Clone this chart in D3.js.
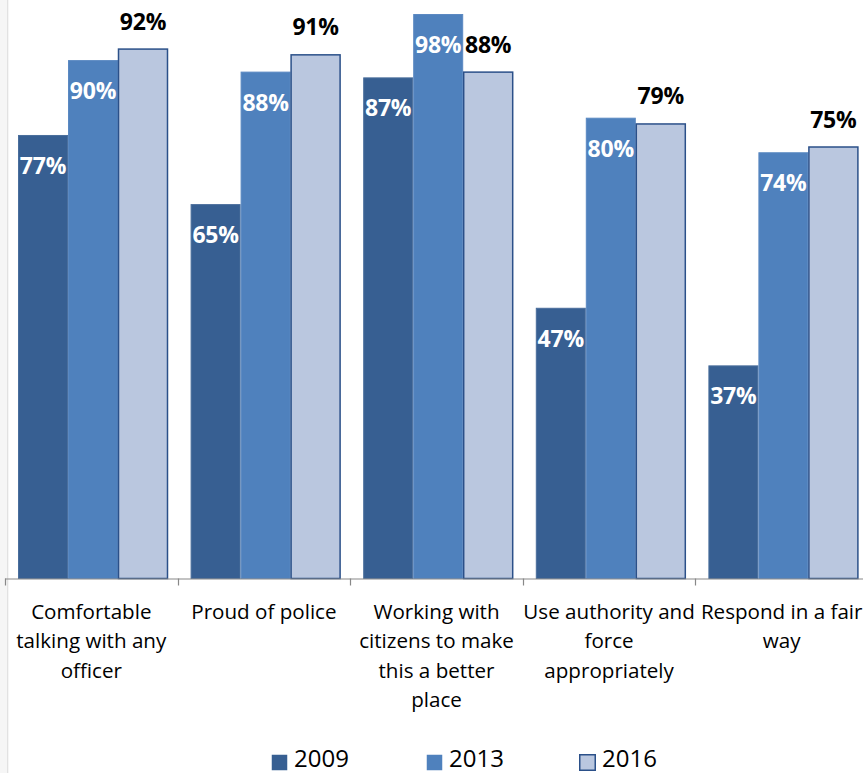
<!DOCTYPE html>
<html>
<head>
<meta charset="utf-8">
<script src="https://cdn.jsdelivr.net/npm/d3@7"></script>
<style>
  html, body { margin: 0; padding: 0; background: #fff; }
  svg { display: block; font-family: "Open Sans", sans-serif; }
</style>
</head>
<body>
<svg id="chart" width="863" height="773"></svg>
<script>
// Survey categories (axis labels, split into display lines)
const categories = [
  "Comfortable talking with any officer",
  "Proud of police",
  "Working with citizens to make this a better place",
  "Use authority and force appropriately",
  "Respond in a fair way"
];
const categoryLines = [
  ["Comfortable", "talking with any", "officer"],
  ["Proud of police"],
  ["Working with", "citizens to make", "this a better", "place"],
  ["Use authority and", "force", "appropriately"],
  ["Respond in a fair", "way"]
];
const years = ["2009", "2013", "2016"];
const values2009 = [77, 65, 87, 47, 37];
const values2013 = [90, 88, 98, 80, 74];
const values2016 = [92, 91, 88, 79, 75];
const seriesValues = [values2009, values2013, values2016];

const fills = { "2009": "#375F92", "2013": "#4F81BD", "2016": "#BAC7DF" };
const strokes = { "2009": "#4A6E9C", "2013": "#5B89C2", "2016": "#2B5089" };

const svg = d3.select("#chart");
const baseline = 578.5;

const x0 = d3.scaleBand().domain(categories).range([5, 868]).padding(0);
const x1 = d3.scaleBand().domain(years).range([13, 163]).padding(0);
const y = d3.scaleLinear().domain([0, 100]).range([baseline, 2.5]);

// faint page edge on the left
svg.append("rect").attr("x", 0).attr("y", 0).attr("width", 9).attr("height", 773)
  .attr("fill", "#f6f6f6");
svg.append("line").attr("x1", 7.5).attr("x2", 7.5).attr("y1", 0).attr("y2", 773)
  .attr("stroke", "#e2e2e2").attr("stroke-width", 1);

const rows = [];
categories.forEach((c, i) => {
  years.forEach((yr, j) => rows.push({ cat: c, year: yr, value: seriesValues[j][i] }));
});

// bars
svg.append("g").selectAll("rect").data(rows).join("rect")
  .attr("x", d => x0(d.cat) + x1(d.year) + 0.5)
  .attr("y", d => y(d.value) + 0.5)
  .attr("width", x1.bandwidth() - 1)
  .attr("height", d => baseline - y(d.value) - 0.5)
  .attr("fill", d => fills[d.year])
  .attr("stroke", d => strokes[d.year])
  .attr("stroke-width", d => d.year === "2016" ? 1.5 : 1);

// value labels: inside-top (white) for 2009/2013, above bar (black) for 2016
svg.append("g").selectAll("text").data(rows).join("text")
  .attr("x", d => x0(d.cat) + x1(d.year) + x1.bandwidth() / 2)
  .attr("y", d => d.year === "2016" ? y(d.value) - 19 : y(d.value) + 39)
  .attr("text-anchor", "middle")
  .attr("font-weight", "bold")
  .attr("font-size", 23)
  .attr("letter-spacing", -0.2)
  .attr("fill", d => d.year === "2016" ? "#000" : "#fff")
  .text(d => d.value + "%");

// x axis
const axis = d3.axisBottom(x0).tickSize(0).tickFormat("");
const gAxis = svg.append("g").attr("transform", `translate(0,${baseline})`).call(axis);
gAxis.select(".domain").attr("stroke", "#888").attr("stroke-width", 1.2).attr("d", "M5,0.5H868");
// boundary ticks between categories
const bounds = categories.map(c => x0(c));
gAxis.selectAll(".bound").data(bounds).join("line")
  .attr("class", "bound")
  .attr("x1", d => Math.round(d) + 0.5).attr("x2", d => Math.round(d) + 0.5)
  .attr("y1", 0).attr("y2", 7)
  .attr("stroke", "#888").attr("stroke-width", 1.2);

// category labels
const gLabels = svg.append("g");
categories.forEach((c, i) => {
  const t = gLabels.append("text")
    .attr("x", x0(c) + x0.bandwidth() / 2)
    .attr("y", 619)
    .attr("text-anchor", "middle")
    .attr("font-size", 20.6)
    .attr("fill", "#000");
  categoryLines[i].forEach((line, k) => {
    t.append("tspan").attr("x", x0(c) + x0.bandwidth() / 2).attr("dy", k === 0 ? 0 : 29.3).text(line);
  });
});

// legend
const legendX = [271, 426, 579];
const legend = svg.append("g");
years.forEach((yr, j) => {
  legend.append("rect")
    .attr("x", legendX[j] + 0.75).attr("y", 754.75)
    .attr("width", 15.5).attr("height", 15.5)
    .attr("fill", fills[yr])
    .attr("stroke", yr === "2016" ? strokes[yr] : "none")
    .attr("stroke-width", 1.5);
  legend.append("text")
    .attr("x", legendX[j] + 23).attr("y", 767)
    .attr("font-size", 24)
    .attr("fill", "#000")
    .text(yr);
});
</script>
</body>
</html>
